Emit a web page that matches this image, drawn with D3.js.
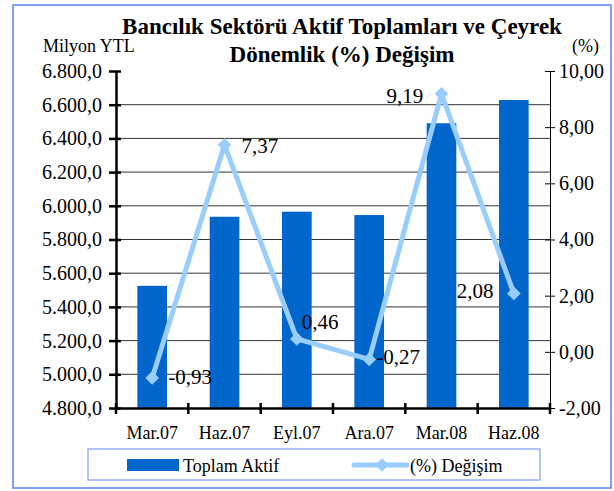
<html lang="tr"><head>
<meta charset="UTF-8">
<title>Bancılık Sektörü</title>
<script src="https://cdn.jsdelivr.net/npm/d3@7"></script>
<style>
body { margin: 0; background: #fff; }
text { font-family: "Liberation Serif", "Times New Roman", serif; }
</style>
</head>
<body>
<script>
var categories = ["Mar.07", "Haz.07", "Eyl.07", "Ara.07", "Mar.08", "Haz.08"];
var toplamAktif = [5525, 5935, 5965, 5945, 6490, 6628];
var degisim = [-0.93, 7.37, 0.46, -0.27, 9.19, 2.08];
var leftTicks = [4800, 5000, 5200, 5400, 5600, 5800, 6000, 6200, 6400, 6600, 6800];
var rightTicks = [-2, 0, 2, 4, 6, 8, 10];

var width = 614, height = 491;
var plotLeft = 116, plotRight = 550, plotTop = 71, plotBottom = 408;
var fs = 18, fsAxis = 20, fsLabel = 21;

var fmtLeft = function(v){ return d3.format(",.1f")(v).replace(/,/g, "#").replace(".", ",").replace(/#/g, "."); };
var fmtRight = function(v){ return d3.format(".2f")(v).replace(".", ",").replace("−", "-"); };

var svg = d3.select("body").append("svg")
  .attr("width", width).attr("height", height);

// outer frame
svg.append("rect").attr("x", 13).attr("y", 5).attr("width", 598).attr("height", 483)
  .attr("fill", "none").attr("stroke", "#5a7ff0").attr("stroke-width", 1.5);

var x = d3.scaleBand().domain(categories).range([plotLeft, plotRight]).paddingInner(0.59).paddingOuter(0.295);
var xb = d3.scaleBand().domain(categories).range([plotLeft, plotRight]);
var y = d3.scaleLinear().domain([4800, 6800]).range([plotBottom, plotTop]);
var y2 = d3.scaleLinear().domain([-2, 10]).range([plotBottom, plotTop]);

// gridlines
svg.append("g").selectAll("line").data(leftTicks.slice(1, -1)).enter().append("line")
  .attr("x1", plotLeft).attr("x2", plotRight)
  .attr("y1", function(d){ return y(d); }).attr("y2", function(d){ return y(d); })
  .attr("stroke", "#333").attr("stroke-width", 1);

// bars
svg.append("g").selectAll("rect").data(toplamAktif).enter().append("rect")
  .attr("x", function(d, i){ return x(categories[i]); })
  .attr("width", x.bandwidth())
  .attr("y", function(d){ return y(d); })
  .attr("height", function(d){ return plotBottom - y(d); })
  .attr("fill", "#0066cc");

// line
var cx = function(i){ return xb(categories[i]) + xb.bandwidth() / 2; };
svg.append("path").datum(degisim)
  .attr("fill", "none").attr("stroke", "#99ccff").attr("stroke-width", 5)
  .attr("stroke-linejoin", "round")
  .attr("d", d3.line().x(function(d, i){ return cx(i); }).y(function(d){ return y2(d); }));

svg.append("g").selectAll("path").data(degisim).enter().append("path")
  .attr("d", d3.symbol().type(d3.symbolDiamond2).size(120))
  .attr("transform", function(d, i){ return "translate(" + cx(i) + "," + y2(d) + ")"; })
  .attr("fill", "#99ccff");

// data labels
var labelOff = [[16, 6], [17, 8], [5, -10], [7, 5], [-55, 9], [-57, 5]];
svg.append("g").selectAll("text").data(degisim).enter().append("text")
  .attr("x", function(d, i){ return cx(i) + labelOff[i][0]; })
  .attr("y", function(d, i){ return y2(d) + labelOff[i][1]; })
  .attr("font-size", fsLabel)
  .text(function(d){ return fmtRight(d); });

// left axis
var gL = svg.append("g").attr("transform", "translate(" + plotLeft + ",0)")
  .call(d3.axisLeft(y).tickValues(leftTicks).tickFormat(fmtLeft).tickSize(0).tickPadding(14));
gL.select(".domain").attr("stroke", "#000").attr("stroke-width", 2.5);
gL.selectAll(".tick").append("line").attr("x1", -7).attr("x2", 5).attr("stroke", "#000").attr("stroke-width", 2.5);
gL.selectAll("text").attr("font-size", fsAxis).attr("fill", "#000").attr("font-family", "Liberation Serif");

// right axis
var gR = svg.append("g").attr("transform", "translate(" + plotRight + ",0)")
  .call(d3.axisRight(y2).tickValues(rightTicks).tickFormat(fmtRight).tickSize(0).tickPadding(9));
gR.select(".domain").attr("stroke", "#000").attr("stroke-width", 1);
gR.selectAll(".tick").append("line").attr("x1", -5).attr("x2", 5).attr("stroke", "#000");
gR.selectAll("text").attr("font-size", fsAxis).attr("fill", "#000").attr("font-family", "Liberation Serif");

// x axis
var gX = svg.append("g").attr("transform", "translate(0," + plotBottom + ")")
  .call(d3.axisBottom(xb).tickSize(0).tickPadding(18));
gX.select(".domain").attr("stroke", "#000").attr("stroke-width", 2.5);
gX.selectAll("text").attr("font-size", fs).attr("fill", "#000").attr("font-family", "Liberation Serif");
svg.append("g").selectAll("line").data(d3.range(categories.length + 1)).enter().append("line")
  .attr("x1", function(i){ return plotLeft + i * xb.step(); })
  .attr("x2", function(i){ return plotLeft + i * xb.step(); })
  .attr("y1", plotBottom - 5).attr("y2", plotBottom + 6)
  .attr("stroke", "#000").attr("stroke-width", 2.5);

// titles
var title = svg.append("text").attr("text-anchor", "middle")
  .attr("font-size", 23).attr("font-weight", "bold");
title.append("tspan").attr("x", 342).attr("y", 34).text("Bancılık Sektörü Aktif Toplamları ve Çeyrek");
title.append("tspan").attr("x", 342).attr("y", 62).text("Dönemlik (%) Değişim");
svg.append("text").attr("x", 43).attr("y", 52).attr("font-size", fs).text("Milyon YTL");
svg.append("text").attr("x", 572).attr("y", 52).attr("font-size", fs).text("(%)");

// legend
var lg = svg.append("g");
lg.append("rect").attr("x", 88).attr("y", 449).attr("width", 452).attr("height", 31)
  .attr("fill", "#fff").attr("stroke", "#7f9cf5").attr("stroke-width", 1.2);
lg.append("rect").attr("x", 127).attr("y", 459).attr("width", 52).attr("height", 12).attr("fill", "#0066cc");
lg.append("text").attr("x", 183).attr("y", 472).attr("font-size", fs).text("Toplam Aktif");
lg.append("line").attr("x1", 354).attr("x2", 407).attr("y1", 465).attr("y2", 465)
  .attr("stroke", "#99ccff").attr("stroke-width", 5).attr("stroke-linecap", "round");
lg.append("path").attr("d", d3.symbol().type(d3.symbolDiamond2).size(120))
  .attr("transform", "translate(382,465)").attr("fill", "#99ccff");
lg.append("text").attr("x", 410).attr("y", 472).attr("font-size", fs).text("(%) Değişim");
</script>
</body></html>
